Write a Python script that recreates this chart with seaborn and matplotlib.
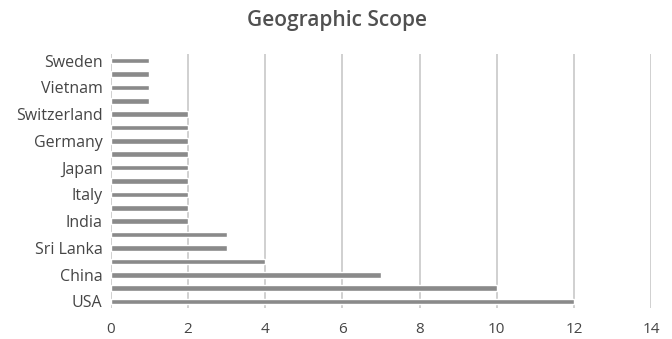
import matplotlib
matplotlib.use("Agg")
import matplotlib.pyplot as plt
import seaborn as sns
import pandas as pd

# Bars listed from bottom to top; only every other category carries a label
tick_labels = ["USA", "", "China", "", "Sri Lanka", "", "India", "", "Italy", "",
               "Japan", "", "Germany", "", "Switzerland", "", "Vietnam", "", "Sweden"]
counts = [12, 10, 7, 4, 3, 3, 2, 2, 2, 2, 2, 2, 2, 2, 2, 1, 1, 1, 1]
x_ticks = [0, 2, 4, 6, 8, 10, 12, 14]

sns.set_theme(style="white")
plt.rcParams["font.family"] = ["Open Sans", "DejaVu Sans"]

text_color = "#454545"
df = pd.DataFrame({"slot": [str(i) for i in range(len(counts))], "count": counts})
# top-to-bottom order so the first row sits at the top of the axis
order = list(reversed(df["slot"]))

fig = plt.figure(figsize=(6.72, 3.39), dpi=100)
ax = fig.add_axes([0.165, 0.091, 0.804, 0.750])
sns.barplot(data=df, x="count", y="slot", order=order, orient="h",
            color="#8a8a8a", saturation=1, width=0.42, ax=ax, zorder=3)

ax.set_xlim(0, 14)
ax.set_ylim(18.5, -0.5)
ax.set_xticks(x_ticks)
ax.set_xticklabels([str(t) for t in x_ticks], fontsize=11, color=text_color)
ax.set_yticks(range(len(order)))
ax.set_yticklabels(list(reversed(tick_labels)), fontsize=11.5, color=text_color)
ax.tick_params(axis="y", length=0, pad=6)
ax.tick_params(axis="x", length=0, pad=10)
ax.set_xlabel("")
ax.set_ylabel("")
ax.grid(axis="x", color="#d0d0d0", linewidth=1.4, zorder=0)
for s in ax.spines.values():
    s.set_visible(False)

fig.text(0.502, 0.94, "Geographic Scope", ha="center", va="center",
         fontsize=15, fontweight="semibold", color="#505050")

fig.savefig("out.png", dpi=100, facecolor="white")
